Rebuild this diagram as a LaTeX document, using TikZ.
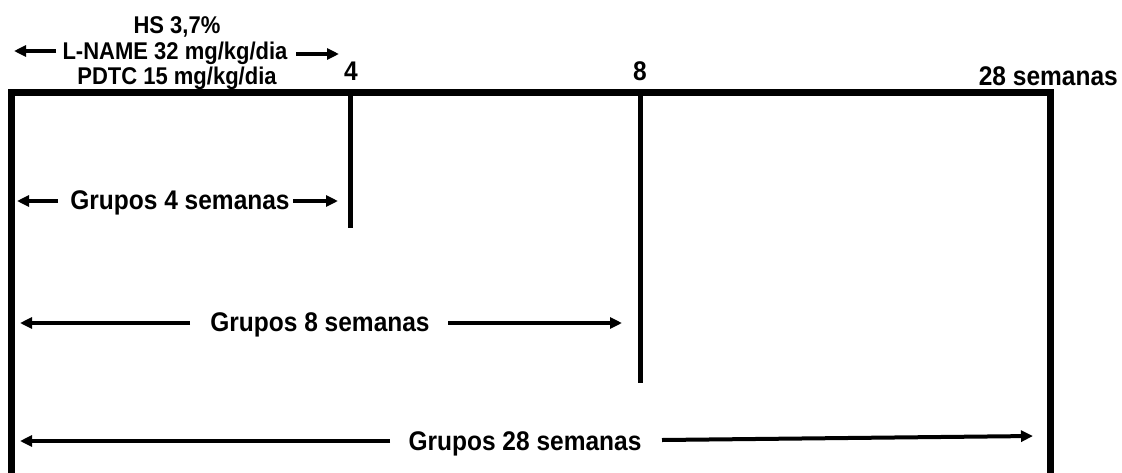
\documentclass[tikz,border=0pt]{standalone}
\usepackage{graphicx}
\usepackage{fontspec}
\setmainfont{Liberation Sans}
\usetikzlibrary{arrows.meta}
\newcommand{\tallt}[1]{\scalebox{1}[1.1]{#1}}
\begin{document}
\begin{tikzpicture}[x=1pt,y=-1pt,
  frame/.style={line width=7pt,line cap=rect},
  tick/.style={line width=5pt},
  arr/.style={line width=4pt,-{Triangle[length=12pt,width=11pt]}},
  lbl/.style={font=\bfseries\fontsize{24.5}{28}\selectfont,inner sep=0pt},
  top/.style={font=\bfseries\fontsize{22}{25}\selectfont,inner sep=0pt}]
\useasboundingbox (0,0) rectangle (1122,472);
% frame
\coordinate (tl) at (11,92);
\coordinate (tr) at (1050,92);
\coordinate (bl) at (11,480);
\coordinate (br) at (1050,480);
\coordinate (t4) at (350,92);
\coordinate (b4) at (350,228);
\coordinate (t8) at (640,92);
\coordinate (b8) at (640,383);
\draw[frame] (bl) -- (tl) -- (tr) -- (br);
\draw[tick] (t4) -- (b4);
\draw[tick] (t8) -- (b8);
% top labels
\node[top] (hs) at (177,27) {\tallt{HS 3,7\%}};
\node[top] (ln) at (175,53) {\tallt{L-NAME 32 mg/kg/dia}};
\node[top] (pd) at (177,78) {\tallt{PDTC 15 mg/kg/dia}};
\node[lbl] (n4) at (351,71) {\tallt{4}};
\node[lbl] (n8) at (640,71) {\tallt{8}};
\node[lbl,anchor=east] (n28) at (1118,76) {\tallt{28 semanas}};
\coordinate (la) at (56,51); \coordinate (lb) at (14,51);
\coordinate (ra) at (296,54); \coordinate (rb) at (339,54);
\draw[arr] (la) -- (lb);
\draw[arr] (ra) -- (rb);
% groups
\node[lbl] (g4) at (180,203) {\tallt{Grupos 4 semanas}};
\coordinate (g4a) at (58,201); \coordinate (g4b) at (17,201);
\coordinate (g4c) at (293,201); \coordinate (g4d) at (338,201);
\draw[arr] (g4a) -- (g4b);
\draw[arr] (g4c) -- (g4d);
\node[lbl] (g8) at (320,325) {\tallt{Grupos 8 semanas}};
\coordinate (g8a) at (190,323); \coordinate (g8b) at (20,323);
\coordinate (g8c) at (448,323); \coordinate (g8d) at (622,323);
\draw[arr] (g8a) -- (g8b);
\draw[arr] (g8c) -- (g8d);
\node[lbl] (g28) at (525,444) {\tallt{Grupos 28 semanas}};
\coordinate (g28a) at (390,441); \coordinate (g28b) at (20,441);
\coordinate (g28c) at (662,440); \coordinate (g28d) at (1033,436);
\draw[arr] (g28a) -- (g28b);
\draw[arr] (g28c) -- (g28d);
\end{tikzpicture}
\end{document}
